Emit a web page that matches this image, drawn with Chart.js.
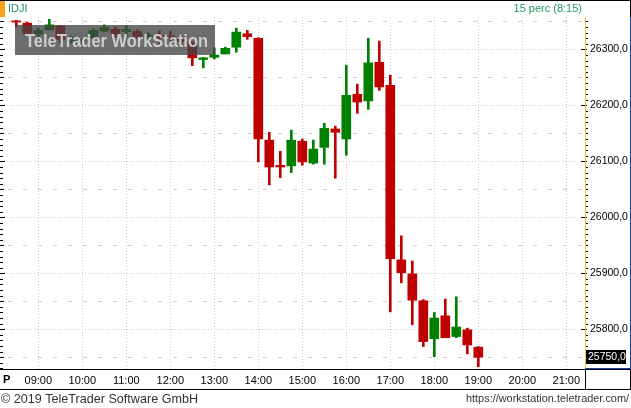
<!DOCTYPE html>
<html>
<head>
<meta charset="utf-8">
<script src="https://cdn.jsdelivr.net/npm/chart.js@4.4.1/dist/chart.umd.min.js"></script>
<style>
  html, body { margin: 0; padding: 0; background: #fff; }
  canvas { display: block; }
</style>
</head>
<body>
<canvas id="chart" width="631" height="408"></canvas>
<script>
// ============================================
// IDJI 15-minute candles
// ============================================

const times = ['08:30', '08:45', '09:00', '09:15', '09:30', '09:45', '10:00', '10:15', '10:30', '10:45',
    '11:00', '11:15', '11:30', '11:45', '12:00', '12:15', '12:30', '12:45', '13:00', '13:15',
    '13:30', '13:45', '14:00', '14:15', '14:30', '14:45', '15:00', '15:15', '15:30', '15:45',
    '16:00', '16:15', '16:30', '16:45', '17:00', '17:15', '17:30', '17:45', '18:00', '18:15',
    '18:30', '18:45', '19:00'];

const open = [26351, 26347, 26327, 26335, 26342, 26316, 26316, 26321, 26333, 26336,
    26332, 26332, 26322, 26325, 26324, 26318, 26312, 26282, 26286, 26292,
    26304, 26328, 26320, 26138, 26093, 26092, 26136, 26097, 26125, 26158,
    26140, 26220, 26208, 26277, 26236, 25924, 25899, 25851, 25783, 25824,
    25787, 25799, 25768];

const high = [26352, 26349, 26338, 26354, 26343, 26324, 26320, 26337, 26344, 26340,
    26343, 26335, 26330, 26334, 26333, 26325, 26314, 26286, 26303, 26304,
    26338, 26334, 26321, 26152, 26118, 26156, 26140, 26138, 26168, 26163,
    26272, 26238, 26320, 26315, 26254, 25967, 25922, 25853, 25830, 25854,
    25858, 25802, 25769];

const low = [26340, 26327, 26320, 26335, 26311, 26311, 26312, 26320, 26332, 26321,
    26324, 26320, 26317, 26309, 26315, 26309, 26271, 26267, 26283, 26292,
    26295, 26318, 26099, 26058, 26071, 26080, 26093, 26095, 26095, 26070,
    26111, 26186, 26193, 26227, 25831, 25883, 25808, 25769, 25751, 25785,
    25785, 25756, 25733];

const close = [26349, 26328, 26334, 26344, 26318, 26317, 26317, 26334, 26339, 26327,
    26336, 26323, 26325, 26323, 26320, 26315, 26285, 26285, 26290, 26302,
    26331, 26323, 26140, 26090, 26090, 26138, 26099, 26122, 26159, 26152,
    26218, 26206, 26276, 26233, 25926, 25901, 25852, 25778, 25820, 25785,
    25804, 25772, 25750];

const xTicks = ['09:00', '10:00', '11:00', '12:00', '13:00', '14:00', '15:00',
    '16:00', '17:00', '18:00', '19:00', '20:00', '21:00'];
const yTicks = [25800, 25900, 26000, 26100, 26200, 26300];
const lastPrice = 25750;

// --- helpers ---
const toHours = t => { const [h, m] = t.split(':').map(Number); return h + m / 60; };
const fmt = v => v.toFixed(1).replace('.', ',');
const FONT = '"Liberation Sans", Arial, sans-serif';
const UP = '#008000', DOWN = '#c00000';

const xs = times.map(toHours);
const colors = close.map((c, i) => c >= open[i] ? UP : DOWN);

// --- custom drawing: grid, watermark, frame, footer ---
const chrome = {
    id: 'chrome',
    beforeDatasetsDraw(chart) {
        const { ctx, chartArea: a, scales: { x, y } } = chart;
        ctx.save();
        ctx.lineWidth = 1;
        ctx.strokeStyle = '#cfcfcf';

        // hour lines, dotted
        ctx.setLineDash([1, 2]);
        xTicks.forEach(t => {
            const px = Math.round(x.getPixelForValue(toHours(t))) + 0.5;
            ctx.beginPath(); ctx.moveTo(px, a.top); ctx.lineTo(px, a.bottom); ctx.stroke();
        });
        yTicks.forEach(v => {
            const py = Math.round(y.getPixelForValue(v)) + 0.5;
            ctx.beginPath(); ctx.moveTo(a.left, py); ctx.lineTo(a.right, py); ctx.stroke();
        });

        // half-way lines, dashed
        ctx.setLineDash([4, 11]);
        ctx.lineDashOffset = -4;
        yTicks.flatMap(v => [v - 50, v + 50]).filter((v, i, arr) => arr.indexOf(v) === i)
            .filter(v => v > y.min && v < y.max)
            .forEach(v => {
                const py = Math.round(y.getPixelForValue(v)) + 0.5;
                ctx.beginPath(); ctx.moveTo(a.left, py); ctx.lineTo(a.right, py); ctx.stroke();
            });
        ctx.restore();
    },
    afterDatasetsDraw(chart) {
        const { ctx, chartArea: a, scales: { x, y } } = chart;
        const W = chart.width;
        ctx.save();

        // watermark
        ctx.fillStyle = 'rgba(68, 68, 68, 0.78)';
        ctx.fillRect(15, 25, 200, 30);
        ctx.fillStyle = 'rgba(215, 215, 215, 0.9)';
        ctx.font = 'bold 19px ' + FONT;
        ctx.textBaseline = 'alphabetic';
        ctx.fillText('TeleTrader WorkStation', 25, 47, 183);

        // header
        ctx.fillStyle = '#000';
        ctx.fillRect(0, 0, W, 1);
        ctx.fillStyle = '#f5a31a';
        ctx.fillRect(0, 1, 5, 16);
        ctx.font = '11px ' + FONT;
        ctx.textBaseline = 'middle';
        ctx.fillStyle = '#1f9a60';
        ctx.fillText('IDJI', 8, 9);
        ctx.textAlign = 'right';
        ctx.fillText('15 perc (8:15)', 582, 9);
        ctx.textAlign = 'left';

        // ticks on the left edge and on the price axis, every 10 points
        ctx.fillStyle = '#000';
        for (let v = Math.ceil(y.min / 10) * 10; v <= y.max; v += 10) {
            const py = Math.round(y.getPixelForValue(v));
            const len = v % 100 === 0 ? 5 : (v % 50 === 0 ? 4 : 3);
            ctx.fillRect(0, py, len, 1);
            ctx.fillRect(a.right - (v % 100 === 0 ? 4 : 0), py, v % 100 === 0 ? 6 : 3, 1);
        }

        // price axis frame
        ctx.fillStyle = '#f0c040';
        ctx.fillRect(a.right, a.top, 1, a.bottom - a.top);
        ctx.fillStyle = '#1f3fa0';
        ctx.fillRect(W - 1, a.top, 1, a.bottom - a.top);
        ctx.fillRect(a.right, a.bottom - 1, W - a.right, 1);
        ctx.fillStyle = '#000';
        ctx.fillRect(W - 1, 0, 1, a.top);
        ctx.fillRect(W - 1, a.bottom, 1, 389 - a.bottom);

        // last price box
        const ly = y.getPixelForValue(lastPrice);
        ctx.fillStyle = '#000';
        ctx.fillRect(a.right + 1, Math.round(ly) - 7, 40, 14);
        ctx.fillStyle = '#fff';
        ctx.font = '10.5px ' + FONT;
        ctx.fillText(fmt(lastPrice), a.right + 3, ly);

        // time axis frame
        ctx.fillStyle = '#000';
        ctx.fillRect(0, a.bottom, W, 1);
        ctx.fillRect(0, 389, W, 1);
        ctx.fillRect(a.right, a.bottom, 1, 389 - a.bottom);
        ctx.font = 'bold 11px ' + FONT;
        ctx.fillText('P', 3, 380);

        // footer
        ctx.fillStyle = '#333';
        ctx.font = '13px ' + FONT;
        ctx.fillText('\u00a9 2019 TeleTrader Software GmbH', 1, 399, 197);
        ctx.textAlign = 'right';
        ctx.font = '11px ' + FONT;
        ctx.fillText('https://workstation.teletrader.com/', 629, 399, 163);
        ctx.restore();
    }
};

new Chart(document.getElementById('chart'), {
    type: 'bar',
    data: {
        datasets: [{
            label: 'wick',
            data: xs.map((x, i) => ({ x, y: [low[i], high[i]] })),
            backgroundColor: colors,
            barThickness: 2,
            grouped: false
        }, {
            label: 'body',
            data: xs.map((x, i) => ({ x, y: [open[i], close[i]] })),
            backgroundColor: colors,
            barThickness: 9,
            grouped: false
        }]
    },
    options: {
        responsive: false,
        animation: false,
        layout: { padding: { left: 4, top: 17, right: 0, bottom: 18 } },
        plugins: { legend: { display: false }, tooltip: { enabled: false } },
        scales: {
            x: {
                type: 'linear',
                min: 8.2205,
                max: 21.425,
                offset: false,
                grid: { display: false, drawTicks: false },
                border: { display: false },
                afterBuildTicks: s => { s.ticks = xTicks.map(t => ({ value: toHours(t) })); },
                afterFit: s => { s.height = 21; },
                ticks: {
                    callback: (v, i) => xTicks[i],
                    color: '#000',
                    font: { family: FONT, size: 11 },
                    padding: 5,
                    maxRotation: 0,
                    autoSkip: false
                }
            },
            y: {
                position: 'right',
                min: 25729,
                max: 26358,
                grid: { display: false, drawTicks: false },
                border: { display: false },
                afterBuildTicks: s => { s.ticks = yTicks.map(v => ({ value: v })); },
                afterFit: s => { s.width = 46; },
                ticks: {
                    callback: v => fmt(v),
                    color: '#000',
                    font: { family: FONT, size: 10.5 },
                    padding: 5
                }
            }
        }
    },
    plugins: [chrome]
});
</script>
</body>
</html>
